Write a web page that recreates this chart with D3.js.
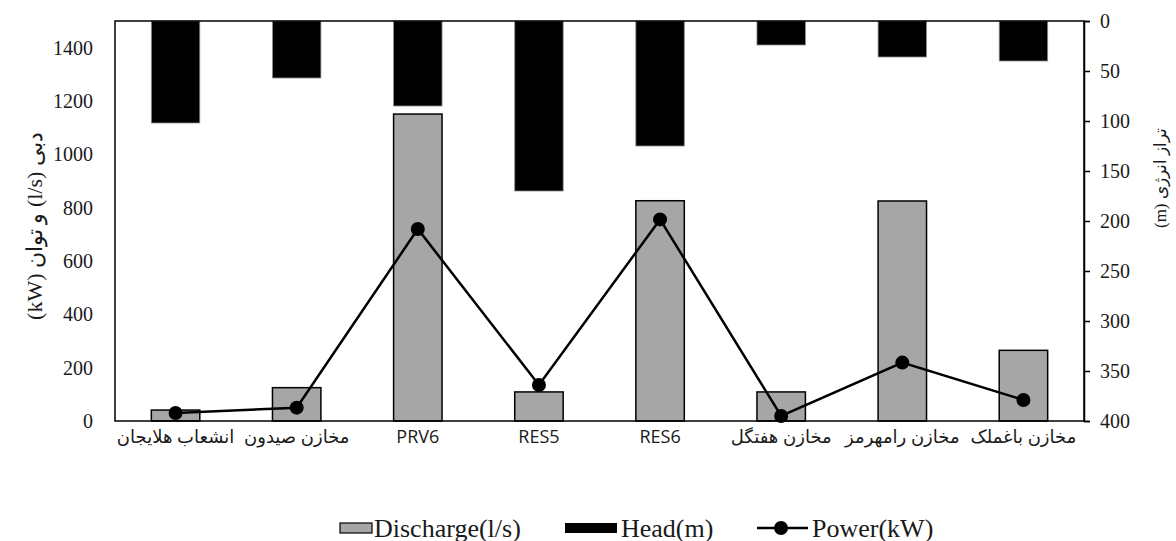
<!DOCTYPE html>
<html>
<head>
<meta charset="utf-8">
<script src="https://cdn.jsdelivr.net/npm/d3@7"></script>
<style>
  html, body { margin: 0; padding: 0; background: #ffffff; }
  svg { display: block; }
</style>
</head>
<body>
<svg id="chart" width="1176" height="541"></svg>
<script>
// Stations along the network
const categories = ["انشعاب هلایجان", "مخازن صیدون", "PRV6", "RES5", "RES6", "مخازن هفتگل", "مخازن رامهرمز", "مخازن باغملک"];
// Discharge (l/s), left axis
const discharge = [41, 125, 1151, 109, 826, 109, 825, 265];
// Energy head (m), right axis (reversed)
const head = [102, 57, 85, 170, 125, 24, 36, 40];
// Power (kW), left axis
const power = [30, 50, 720, 135, 756, 19, 219, 79];
// Axis tick values
const leftTicks = [0, 200, 400, 600, 800, 1000, 1200, 1400];
const rightTicks = [0, 50, 100, 150, 200, 250, 300, 350, 400];

const svg = d3.select("#chart");
const plot = { left: 115, right: 1084, top: 21, bottom: 421 };
const serif = "'Liberation Serif', 'Times New Roman', 'DejaVu Serif', serif";
const sans = "'Open Sans', 'DejaVu Sans', sans-serif";

const x = d3.scaleBand().domain(categories).range([plot.left, plot.right]).paddingInner(0.6).paddingOuter(0.3);
const yLeft = d3.scaleLinear().domain([0, 1500]).range([plot.bottom, plot.top]);
const yRight = d3.scaleLinear().domain([0, 400]).range([plot.top, plot.bottom]);

// Head bars hang from the top (reversed axis)
svg.append("g").selectAll("rect").data(categories).join("rect")
  .attr("x", (d) => x(d))
  .attr("y", yRight(0))
  .attr("width", x.bandwidth())
  .attr("height", (d, i) => yRight(head[i]) - yRight(0))
  .attr("fill", "#000000")
  .attr("stroke", "#8c8c8c")
  .attr("stroke-width", 0.8);

// Discharge bars
svg.append("g").selectAll("rect").data(categories).join("rect")
  .attr("x", (d) => x(d))
  .attr("y", (d, i) => yLeft(discharge[i]))
  .attr("width", x.bandwidth())
  .attr("height", (d, i) => yLeft(0) - yLeft(discharge[i]))
  .attr("fill", "#a6a6a6")
  .attr("stroke", "#000000")
  .attr("stroke-width", 1.5);

// Frame
svg.append("rect")
  .attr("x", plot.left).attr("y", plot.top)
  .attr("width", plot.right - plot.left).attr("height", plot.bottom - plot.top)
  .attr("fill", "none").attr("stroke", "#000000").attr("stroke-width", 1.5);

// Left axis
const leftAxis = svg.append("g")
  .attr("transform", `translate(${plot.left},0)`)
  .call(d3.axisLeft(yLeft).tickValues(leftTicks).tickSize(0).tickPadding(22).tickFormat(d3.format("d")));
leftAxis.select(".domain").remove();
leftAxis.selectAll("text").style("font-family", serif).style("font-size", "20px").attr("fill", "#1a1a1a");

// Right axis
const rightAxis = svg.append("g")
  .attr("transform", `translate(${plot.right},0)`)
  .call(d3.axisRight(yRight).tickValues(rightTicks).tickSize(6).tickPadding(10).tickFormat(d3.format("d")));
rightAxis.select(".domain").attr("stroke-width", 1.5);
rightAxis.selectAll("line").attr("stroke-width", 1.5);
rightAxis.selectAll("text").style("font-family", serif).style("font-size", "20px").attr("fill", "#1a1a1a");

// Category axis
const bottomAxis = svg.append("g")
  .attr("transform", `translate(0,${plot.bottom})`)
  .call(d3.axisBottom(x).tickSize(0).tickPadding(9));
bottomAxis.select(".domain").remove();
bottomAxis.selectAll("text")
  .style("font-family", sans).style("font-size", "18px").attr("fill", "#1a1a1a")
  .attr("direction", "rtl");

// Power line with markers
const line = d3.line()
  .x((d, i) => x(categories[i]) + x.bandwidth() / 2)
  .y((d) => yLeft(d));
svg.append("path").datum(power)
  .attr("d", line).attr("fill", "none").attr("stroke", "#000").attr("stroke-width", 2.5);
svg.append("g").selectAll("circle").data(power).join("circle")
  .attr("cx", (d, i) => x(categories[i]) + x.bandwidth() / 2)
  .attr("cy", (d) => yLeft(d))
  .attr("r", 7).attr("fill", "#000");

// Axis titles
svg.append("text")
  .attr("transform", "translate(34,226) rotate(-90)")
  .attr("text-anchor", "middle").attr("dominant-baseline", "central")
  .attr("direction", "rtl")
  .style("font-family", serif).style("font-size", "22px").attr("fill", "#1a1a1a")
  .text("دبی (l/s) و توان (kW)");
svg.append("text")
  .attr("transform", "translate(1160,178) rotate(-90)")
  .attr("text-anchor", "middle").attr("dominant-baseline", "central")
  .attr("direction", "rtl")
  .style("font-family", serif).style("font-size", "17px").attr("fill", "#1a1a1a")
  .text("تراز انرژی (m)");

// Legend
const legend = svg.append("g").style("font-family", serif).style("font-size", "26px").attr("fill", "#1a1a1a");
const ly = 528;
legend.append("rect").attr("x", 340).attr("y", ly - 5).attr("width", 32).attr("height", 10)
  .attr("fill", "#a6a6a6").attr("stroke", "#000").attr("stroke-width", 1.2);
legend.append("text").attr("x", 374).attr("y", ly).attr("dominant-baseline", "central").text("Discharge(l/s)");
legend.append("rect").attr("x", 565).attr("y", ly - 5).attr("width", 52).attr("height", 10).attr("fill", "#000");
legend.append("text").attr("x", 621).attr("y", ly).attr("dominant-baseline", "central").text("Head(m)");
legend.append("line").attr("x1", 757).attr("x2", 808).attr("y1", ly).attr("y2", ly)
  .attr("stroke", "#000").attr("stroke-width", 2.5);
legend.append("circle").attr("cx", 781).attr("cy", ly).attr("r", 7).attr("fill", "#000");
legend.append("text").attr("x", 812).attr("y", ly).attr("dominant-baseline", "central").text("Power(kW)");
</script>
</body>
</html>
